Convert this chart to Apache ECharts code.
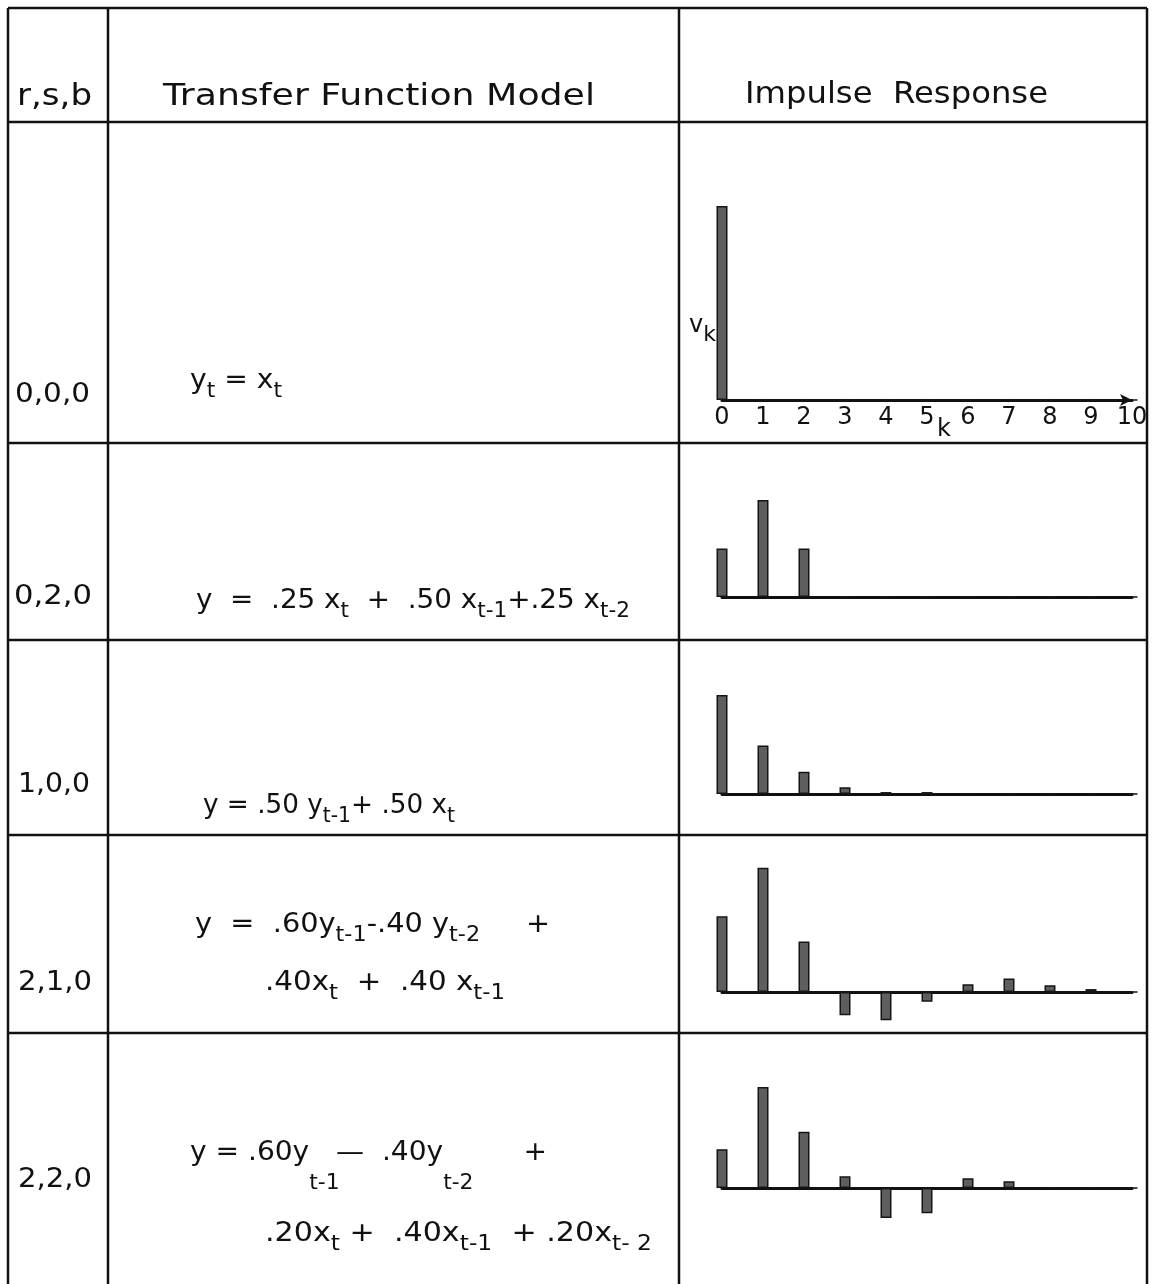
<!DOCTYPE html>
<html>
<head>
<meta charset="utf-8">
<title>Transfer function models and impulse responses</title>
<script src="https://cdn.jsdelivr.net/npm/echarts@6/dist/echarts.min.js"></script>
<style>
  html, body { margin: 0; padding: 0; background: #ffffff; }
  #chart { width: 1152px; height: 1284px; }
</style>
</head>
<body>
<div id="chart"></div>
<script>
// ---- data -------------------------------------------------------------
// lag k of the impulse response weights v_k
const lags = [0, 1, 2, 3, 4, 5, 6, 7, 8, 9, 10];
const tickLabels = ['0', '1', '2', '3', '4', '5', '6', '7', '8', '9', '10'];
const modelOrders = ['0,0,0', '0,2,0', '1,0,0', '2,1,0', '2,2,0'];

// impulse response weights v_k for each (r,s,b) model
const v000 = [1.00, 0, 0, 0, 0, 0, 0, 0, 0, 0, 0];
const v020 = [0.25, 0.50, 0.25, 0, 0, 0, 0, 0, 0, 0, 0];
const v100 = [0.51, 0.25, 0.115, 0.035, 0.01, 0.01, 0, 0, 0, 0, 0];
const v210 = [0.39, 0.64, 0.26, -0.12, -0.145, -0.05, 0.04, 0.07, 0.035, 0.015, 0];
const v220 = [0.20, 0.52, 0.29, 0.06, -0.155, -0.13, 0.05, 0.035, 0, 0, 0];
const responses = [v000, v020, v100, v210, v220];

// model equations as [text, style] pieces: m = main, s = subscript, d = dropped subscript
const eq000 = [['y', 'm'], ['t', 's'], [' = x', 'm'], ['t', 's']];
const eq020 = [['y  =  .25 x', 'm'], ['t', 's'], ['  +  .50 x', 'm'], ['t-1', 's'], ['+.25 x', 'm'], ['t-2', 's']];
const eq100 = [['y = .50 y', 'm'], ['t-1', 's'], ['+ .50 x', 'm'], ['t', 's']];
const eq210a = [['y  =  .60y', 'm'], ['t-1', 's'], ['-.40 y', 'm'], ['t-2', 's'], ['     +', 'm']];
const eq210b = [['.40x', 'm'], ['t', 's'], ['  +  .40 x', 'm'], ['t-1', 's']];
const eq220a = [['y = .60y', 'm'], ['t-1', 'd'], [' —  .40y', 'm'], ['t-2', 'd'], ['       +', 'm']];
const eq220b = [['.20x', 'm'], ['t', 's'], [' +  .40x', 'm'], ['t-1', 's'], ['  + .20x', 'm'], ['t- 2', 's']];

// ---- layout -----------------------------------------------------------
const INK = '#111111';
const FONT = '"DejaVu Sans", sans-serif';
const colX = [8, 108, 679, 1147];
const rowY = [8, 122, 443, 640, 835, 1033];
const tableBottom = 1284;

const plotLeft = 722;
const plotWidth = 410;
const baselines = [400, 597, 794, 992, 1188];
const PX_PER_UNIT = 194;
const yMins = [0, -0.25, -0.25, -0.25, -0.25];
const Y_MAX = 1.05;

const RICH = {
  h: { fontSize: 30, fontFamily: FONT, fill: INK },
  r: { fontSize: 27, fontFamily: FONT, fill: INK },
  m: { fontSize: 27, fontFamily: FONT, fill: INK },
  s: { fontSize: 21, fontFamily: FONT, fill: INK, padding: [22, 0, 0, 0] },
  d: { fontSize: 21, fontFamily: FONT, fill: INK, padding: [62, -12, 0, 0] },
  a: { fontSize: 24, fontFamily: FONT, fill: INK },
  ak: { fontSize: 22, fontFamily: FONT, fill: INK, padding: [18, 0, 0, 0] }
};

const measureCtx = document.createElement('canvas').getContext('2d');
function measure(txt, size) {
  measureCtx.font = size + 'px ' + FONT;
  return measureCtx.measureText(txt).width;
}
function richString(segs) {
  return segs.map(function (p) { return '{' + p[1] + '|' + p[0] + '}'; }).join('');
}
function richWidth(segs) {
  return segs.reduce(function (w, p) {
    const st = RICH[p[1]];
    const pad = st.padding || [0, 0, 0, 0];
    return w + measure(p[0], st.fontSize) + pad[1] + pad[3];
  }, 0);
}
// text stretched horizontally so that it spans [left, right]
function textSpan(segs, left, right, cy) {
  const w = richWidth(segs);
  return {
    type: 'text', x: left, y: cy, scaleX: (right - left) / w, silent: true,
    style: { text: richString(segs), rich: RICH, align: 'left', verticalAlign: 'middle', fill: INK }
  };
}
function textPlain(segs, x, cy, align) {
  return {
    type: 'text', x: x, y: cy, silent: true,
    style: { text: richString(segs), rich: RICH, align: align || 'left', verticalAlign: 'middle', fill: INK }
  };
}

// ---- table rules --------------------------------------------------------
const graphics = [];
colX.forEach(function (x) {
  graphics.push({ type: 'line', silent: true, shape: { x1: x, y1: rowY[0], x2: x, y2: tableBottom },
    style: { stroke: INK, lineWidth: 2.5 } });
});
rowY.forEach(function (y) {
  graphics.push({ type: 'line', silent: true, shape: { x1: colX[0], y1: y, x2: colX[3], y2: y },
    style: { stroke: INK, lineWidth: 2.5 } });
});

// ---- header ---------------------------------------------------------------
graphics.push(textSpan([['r,s,b', 'h']], 17, 92, 97));
graphics.push(textSpan([['Transfer Function Model', 'h']], 163, 595, 97));
graphics.push(textSpan([['Impulse  Response', 'h']], 745, 1048, 95));

// ---- (r,s,b) column ----------------------------------------------------
const orderSpan = [[15, 90, 395], [14, 92, 597], [18, 90, 785], [18, 92, 983], [18, 92, 1180]];
modelOrders.forEach(function (o, i) {
  graphics.push(textSpan([[o, 'r']], orderSpan[i][0], orderSpan[i][1], orderSpan[i][2]));
});

// ---- equations -----------------------------------------------------------
graphics.push(textSpan(eq000, 190, 282, 381));
graphics.push(textSpan(eq020, 196, 630, 601));
graphics.push(textSpan(eq100, 203, 455, 806));
graphics.push(textSpan(eq210a, 195, 550, 925));
graphics.push(textSpan(eq210b, 265, 505, 983));
graphics.push(textSpan(eq220a, 190, 547, 1153));
graphics.push(textSpan(eq220b, 265, 652, 1234));

// axis titles of the first plot
graphics.push(textPlain([['v', 'a'], ['k', 'ak']], 689, 326));
graphics.push(textPlain([['k', 'a']], 944, 430, 'center'));

// ---- impulse response plots -----------------------------------------------
const grids = [], xAxes = [], yAxes = [], series = [];
responses.forEach(function (vals, i) {
  grids.push({
    left: plotLeft, width: plotWidth,
    top: baselines[i] - Y_MAX * PX_PER_UNIT,
    height: (Y_MAX - yMins[i]) * PX_PER_UNIT,
    containLabel: false
  });
  xAxes.push({
    gridIndex: i, type: 'value', min: 0, max: 10, interval: 1,
    axisLine: {
      show: true, onZero: true,
      symbol: i === 0 ? ['none', 'arrow'] : 'none', symbolSize: [9, 12],
      lineStyle: { color: INK, width: 3, cap: 'round' }
    },
    axisTick: { show: false },
    splitLine: { show: false },
    axisLabel: {
      show: i === 0, margin: 6, fontSize: 24, fontFamily: FONT, color: INK,
      formatter: function (v) { return tickLabels[v] !== undefined ? tickLabels[v] : ''; }
    }
  });
  yAxes.push({ gridIndex: i, type: 'value', min: yMins[i], max: Y_MAX, show: false });
  series.push({
    type: 'bar', xAxisIndex: i, yAxisIndex: i, barWidth: 11, silent: true,
    data: lags.map(function (k, j) { return [k, vals[j]]; }),
    itemStyle: { color: '#5e5e5e', borderColor: '#151515', borderWidth: 1.5 }
  });
});

const chart = echarts.init(document.getElementById('chart'), null, { renderer: 'canvas' });
chart.setOption({
  backgroundColor: '#ffffff',
  animation: false,
  grid: grids,
  xAxis: xAxes,
  yAxis: yAxes,
  series: series,
  graphic: { elements: graphics }
});
</script>
</body>
</html>
